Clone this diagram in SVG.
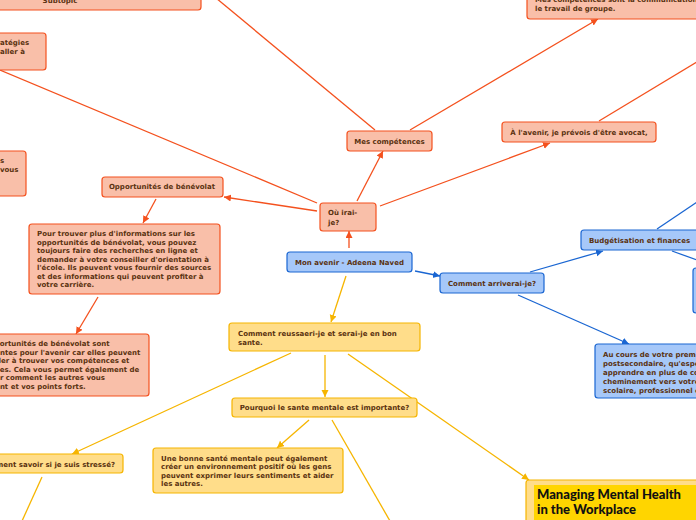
<svg xmlns="http://www.w3.org/2000/svg" width="696" height="520" viewBox="0 0 696 520">
<defs>
<style>
.t{font-family:"DejaVu Sans",Verdana,sans-serif;font-weight:bold;font-size:7px;fill:#5a3210}
.c{text-anchor:middle}
.o{fill:#f9bfa9;stroke:#f4511e;stroke-width:1.2}
.b{fill:#a6c8f9;stroke:#1a66d2;stroke-width:1.2}
.y{fill:#ffdd8a;stroke:#f6b500;stroke-width:1.2}
.lo{stroke:#f4511e;stroke-width:1.3;fill:none}
.lb{stroke:#1a66d2;stroke-width:1.3;fill:none}
.ly{stroke:#f6b500;stroke-width:1.3;fill:none}
.big{font-family:Lato,"Open Sans",sans-serif;font-weight:900;font-size:13px;fill:#111}
</style>
<marker id="ao" markerWidth="8" markerHeight="8" refX="7" refY="3.5" orient="auto" markerUnits="userSpaceOnUse"><path d="M0,0 L7,3.5 L0,7 z" fill="#f4511e"/></marker>
<marker id="ab" markerWidth="8" markerHeight="8" refX="7" refY="3.5" orient="auto" markerUnits="userSpaceOnUse"><path d="M0,0 L7,3.5 L0,7 z" fill="#1a66d2"/></marker>
<marker id="ay" markerWidth="8" markerHeight="8" refX="7" refY="3.5" orient="auto" markerUnits="userSpaceOnUse"><path d="M0,0 L7,3.5 L0,7 z" fill="#f6b500"/></marker>
</defs>
<rect width="696" height="520" fill="#fff"/>
<g id="connectors">
<line class="lo" x1="216" y1="-2" x2="375" y2="130"/>
<line class="lo" x1="410" y1="130" x2="598" y2="19" marker-end="url(#ao)"/>
<line class="lo" x1="357" y1="201" x2="383" y2="151" marker-end="url(#ao)"/>
<line class="lo" x1="349" y1="248" x2="349" y2="231" marker-end="url(#ao)"/>
<line class="lo" x1="317" y1="211" x2="224" y2="197" marker-end="url(#ao)"/>
<line class="lo" x1="317" y1="203" x2="0" y2="70"/>
<line class="lo" x1="380" y1="206" x2="550" y2="143" marker-end="url(#ao)"/>
<line class="lo" x1="599" y1="121" x2="697" y2="62"/>
<line class="lo" x1="156" y1="199" x2="143" y2="223" marker-end="url(#ao)"/>
<line class="lo" x1="98" y1="297" x2="76" y2="334" marker-end="url(#ao)"/>
<line class="lb" x1="415" y1="271" x2="440" y2="276" marker-end="url(#ab)"/>
<line class="lb" x1="530" y1="272" x2="603" y2="251" marker-end="url(#ab)"/>
<line class="lb" x1="657" y1="229" x2="697" y2="202"/>
<line class="lb" x1="672" y1="251" x2="697" y2="260"/>
<line class="lb" x1="518" y1="295" x2="629" y2="344" marker-end="url(#ab)"/>
<line class="ly" x1="346" y1="276" x2="331" y2="322" marker-end="url(#ay)"/>
<line class="ly" x1="325" y1="355" x2="325" y2="397" marker-end="url(#ay)"/>
<line class="ly" x1="291" y1="353" x2="72" y2="454" marker-end="url(#ay)"/>
<line class="ly" x1="348" y1="354" x2="529" y2="480" marker-end="url(#ay)"/>
<line class="ly" x1="309" y1="420" x2="277" y2="448" marker-end="url(#ay)"/>
<line class="ly" x1="332" y1="420" x2="390" y2="521"/>
<line class="ly" x1="42" y1="477" x2="22" y2="521"/>
</g>
<g id="n-subtopic"><rect class="o" x="-80" y="-20" width="281" height="30" rx="3"/><text class="t c" x="60" y="3">Subtopic</text></g>
<g id="n-strategies"><rect class="o" x="-60" y="33" width="106" height="37" rx="3"/><text class="t" x="-11" y="45">stratégies</text><text class="t" x="0" y="54">aller à</text></g>
<g id="n-vous"><rect class="o" x="-60" y="151" width="86" height="45" rx="3"/><text class="t" x="0" y="163">s</text><text class="t" x="0" y="172">vous</text></g>
<g id="n-opportunites"><rect class="o" x="102" y="177" width="121" height="20" rx="3"/><text class="t c" x="162" y="189">Opportunités de bénévolat</text></g>
<g id="n-pourtrouver"><rect class="o" x="29" y="224" width="191" height="70" rx="3"/>
<text class="t" x="37" y="236">Pour trouver plus d'informations sur les</text>
<text class="t" x="37" y="245">opportunités de bénévolat, vous pouvez</text>
<text class="t" x="37" y="253">toujours faire des recherches en ligne et</text>
<text class="t" x="37" y="262">demander à votre conseiller d'orientation à</text>
<text class="t" x="37" y="270">l'école. Ils peuvent vous fournir des sources</text>
<text class="t" x="37" y="279">et des informations qui peuvent profiter à</text>
<text class="t" x="37" y="287">votre carrière.</text></g>
<g id="n-lesopp"><rect class="o" x="-40" y="334" width="189" height="62" rx="3"/>
<text class="t" x="-31" y="346">Les opportunités de bénévolat sont</text>
<text class="t" x="-31" y="355">importantes pour l'avenir car elles peuvent</text>
<text class="t" x="-32" y="363">vous aider à trouver vos compétences et</text>
<text class="t" x="-31" y="372">faiblesses. Cela vous permet également de</text>
<text class="t" x="-34" y="380">percevoir comment les autres vous</text>
<text class="t" x="-34" y="389">perçoivent et vos points forts.</text></g>
<g id="n-ouiraije"><rect class="o" x="320" y="203" width="56" height="28" rx="3"/><text class="t" x="328" y="215">Où irai-</text><text class="t" x="328" y="225">je?</text></g>
<g id="n-mescomp"><rect class="o" x="347" y="131" width="85" height="20" rx="3"/><text class="t c" x="389.5" y="144">Mes compétences</text></g>
<g id="n-mescomp2"><rect class="o" x="527" y="-20" width="190" height="39" rx="3"/><text class="t" x="535" y="2">Mes compétences sont la communication et</text><text class="t" x="535" y="11">le travail de groupe.</text></g>
<g id="n-avenir"><rect class="o" x="502" y="122" width="154" height="20" rx="3"/><text class="t c" x="579" y="135">À l'avenir, je prévois d'être avocat,</text></g>
<g id="n-main"><rect class="b" x="287" y="252" width="125" height="20" rx="3"/><text class="t c" x="349.5" y="264.5">Mon avenir - Adeena Naved</text></g>
<g id="n-arriverai"><rect class="b" x="440" y="273" width="104" height="20" rx="3"/><text class="t c" x="492" y="285.5">Comment arriverai-je?</text></g>
<g id="n-budget"><rect class="b" x="581" y="230" width="130" height="20" rx="3"/><text class="t" x="589" y="242.5">Budgétisation et finances</text></g>
<g id="n-right"><rect class="b" x="693" y="268" width="40" height="45" rx="3"/></g>
<g id="n-aucours"><rect class="b" x="595" y="344" width="130" height="54" rx="3"/>
<text class="t" x="603" y="357">Au cours de votre première année</text>
<text class="t" x="603" y="366">postsecondaire, qu'espérez-vous</text>
<text class="t" x="603" y="375">apprendre en plus de connaître votre</text>
<text class="t" x="603" y="384">cheminement vers votre parcours</text>
<text class="t" x="603" y="393">scolaire, professionnel et personnel?</text></g>
<g id="n-reussir"><rect class="y" x="229" y="323" width="191" height="28" rx="3"/><text class="t" x="238" y="336">Comment reussaeri-je et serai-je en bon</text><text class="t" x="238" y="345">sante.</text></g>
<g id="n-pourquoi"><rect class="y" x="232" y="398" width="185" height="19" rx="3"/><text class="t c" x="324.5" y="410">Pourquoi le sante mentale est importante?</text></g>
<g id="n-stresse"><rect class="y" x="-40" y="454" width="163" height="19" rx="3"/><text class="t" x="115" y="466.5" text-anchor="end">Comment savoir si je suis stressé?</text></g>
<g id="n-bonne"><rect class="y" x="153" y="448" width="190" height="45" rx="3"/>
<text class="t" x="161" y="461">Une bonne santé mentale peut également</text>
<text class="t" x="161" y="469">créer un environnement positif où les gens</text>
<text class="t" x="161" y="478">peuvent exprimer leurs sentiments et aider</text>
<text class="t" x="161" y="486">les autres.</text></g>
<g id="n-managing"><rect class="y" x="526" y="480" width="190" height="60" rx="3"/><rect x="534" y="485" width="180" height="50" fill="#ffd500"/>
<text class="big" x="537" y="499">Managing Mental Health</text><text class="big" x="537" y="514">in the Workplace</text></g>
</svg>
